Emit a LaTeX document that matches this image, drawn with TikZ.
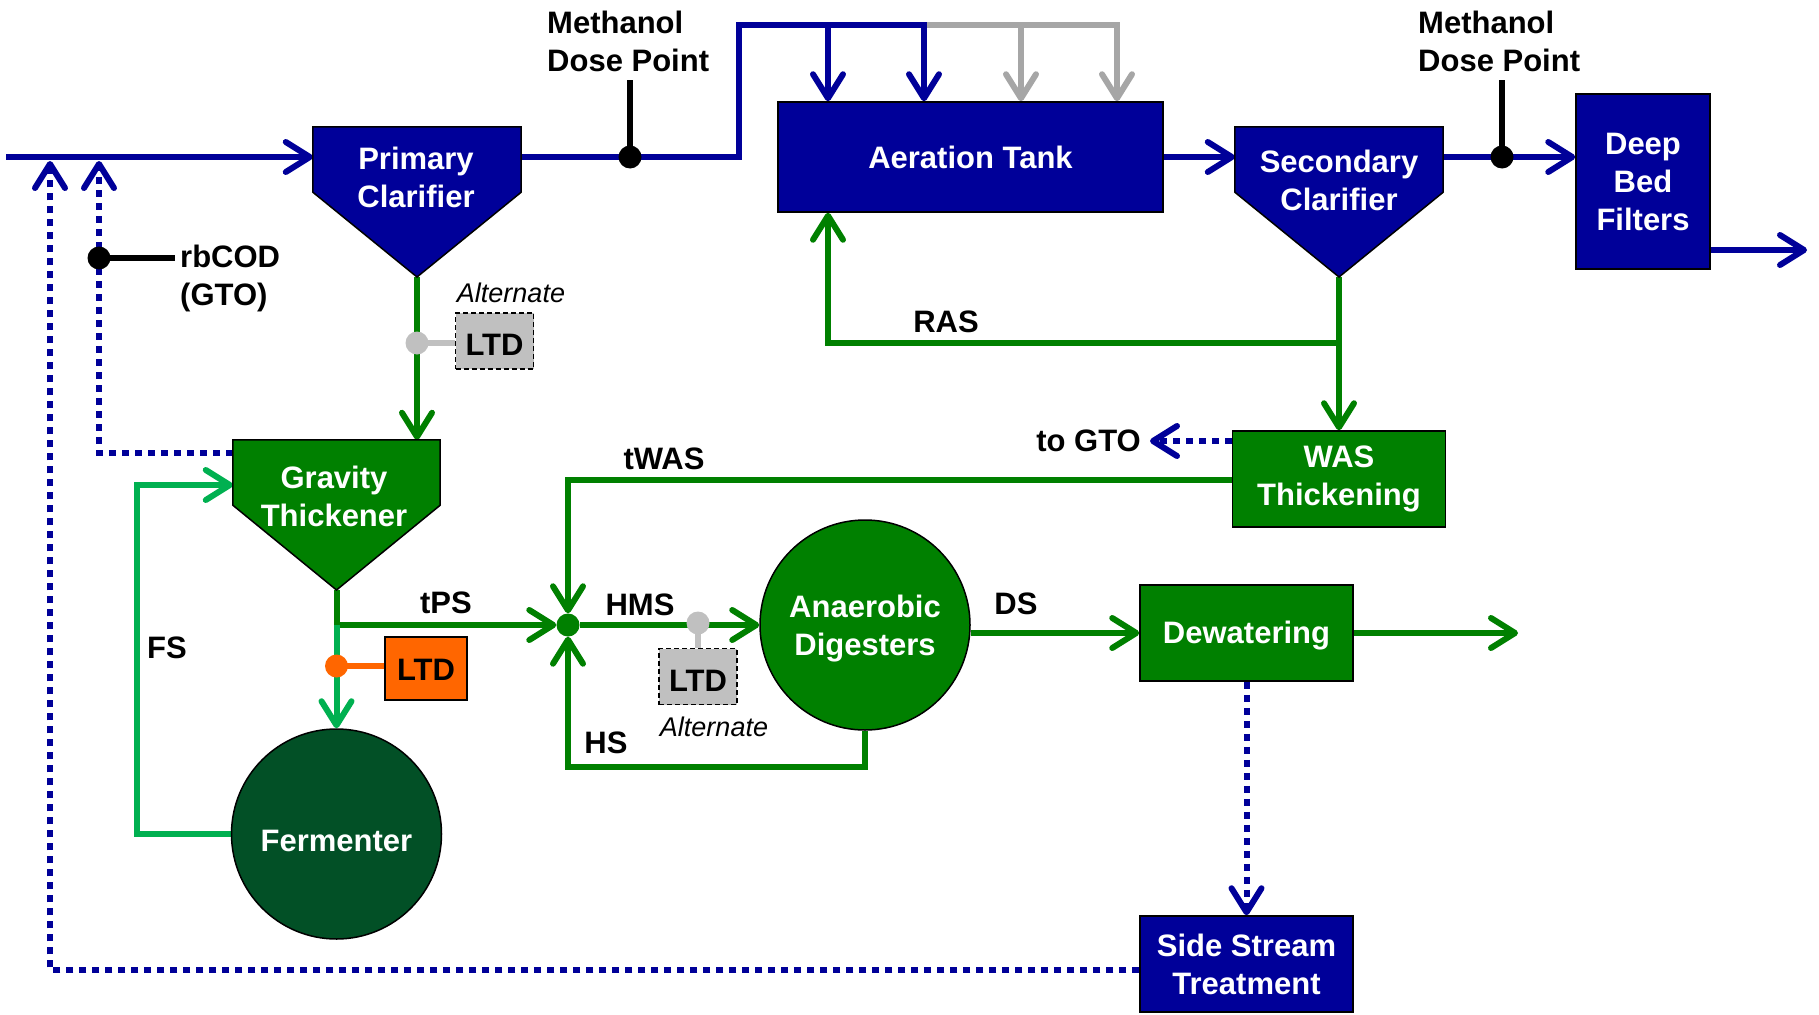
\documentclass[tikz,border=0pt]{standalone}
\usepackage{fontspec}
\setmainfont{Liberation Sans}
\usetikzlibrary{arrows.meta}
\definecolor{navy}{RGB}{0,0,153}
\definecolor{pgreen}{RGB}{0,128,0}
\definecolor{lgreen}{RGB}{0,176,80}
\definecolor{fgreen}{RGB}{2,80,38}
\definecolor{lgrey}{RGB}{166,166,166}
\definecolor{ltdgrey}{RGB}{192,192,192}
\definecolor{ltdorange}{RGB}{255,102,0}
\pgfdeclarelayer{lines}
\pgfsetlayers{lines,main}
\begin{document}
\begin{tikzpicture}[x=1pt,y=-1pt,
  every node/.style={font=\fontsize{31}{38}\selectfont\bfseries, inner sep=0pt},
  flow/.style={line width=6pt},
  tip/.style={-{Straight Barb[length=24pt,width=30pt,round]}},
  dots/.style={flow, navy, dash pattern=on 7pt off 6pt},
  unit/.style={draw=black, line width=1.5pt, text=white, align=center},
  hopper/.style={draw=black, line width=1.5pt},
  alt/.style={font=\fontsize{27}{30}\selectfont\itshape},
  ltdbox/.style={draw=black, line width=1.5pt, minimum width=78pt, minimum height=56pt},
  dotmark/.style={circle, minimum size=23pt},
  tank/.style={circle, draw=black, line width=1.5pt, minimum size=210pt, text=white, align=center}
]
\useasboundingbox (0,0) rectangle (1819,1014);

% ---------- process units ----------
\node[unit, fill=navy, minimum width=385pt, minimum height=110pt] (at) at (970.5,157) {Aeration Tank};
\node[unit, fill=navy, minimum width=134pt, minimum height=175pt] (dbf) at (1643,181.5) {Deep\\Bed\\Filters};
\node[unit, fill=pgreen, minimum width=213pt, minimum height=96pt] (was) at (1339,479) {WAS\\Thickening};
\node[draw=black, line width=1.5pt, fill=pgreen, minimum width=213pt, minimum height=96pt] (dw) at (1246.5,633) {};
\node[text=white] (dwtext) at (1246.5,636) {Dewatering};
\node[unit, fill=navy, minimum width=213pt, minimum height=96pt] (sst) at (1246.5,964) {Side Stream\\Treatment};

% clarifiers and thickener: box on top of a hopper
\node[minimum width=208pt, minimum height=65pt] (pc) at (417,159.5) {};
\coordinate (pctip) at (417,277);
\filldraw[hopper, fill=navy] (pc.north west) -- (pc.north east) -- (pc.south east) -- (pctip) -- (pc.south west) -- cycle;
\node[text=white, align=center] (pctext) at (416,177) {Primary\\Clarifier};

\node[minimum width=208pt, minimum height=65pt] (sc) at (1339,159.5) {};
\coordinate (sctip) at (1339,277);
\filldraw[hopper, fill=navy] (sc.north west) -- (sc.north east) -- (sc.south east) -- (sctip) -- (sc.south west) -- cycle;
\node[text=white, align=center] (sctext) at (1339,180) {Secondary\\Clarifier};

\node[minimum width=207pt, minimum height=65pt] (gt) at (336.5,472.5) {};
\coordinate (gttip) at (336.5,590);
\filldraw[hopper, fill=pgreen] (gt.north west) -- (gt.north east) -- (gt.south east) -- (gttip) -- (gt.south west) -- cycle;
\node[text=white, align=center] (gttext) at (334,496) {Gravity\\Thickener};

\node[tank, fill=fgreen] (fer) at (336.5,834) {};
\node[text=white] (fertext) at (336.5,841) {Fermenter};
\node[tank, fill=pgreen] (ad) at (865,625) {};
\node[text=white, align=center] (adtext) at (865,629) {Anaerobic\\Digesters};

% ---------- dose points, mixing point, LTD units ----------
\node[dotmark, fill=black] (md1) at (630,157) {};
\node[dotmark, fill=black] (md2) at (1502,157) {};
\node[dotmark, fill=black] (rb) at (99,258) {};
\node[dotmark, fill=pgreen] (jn) at (568,625) {};
\node[dotmark, fill=ltdgrey] (gd1) at (417,343) {};
\node[dotmark, fill=ltdgrey] (gd2) at (698,623) {};
\node[dotmark, fill=ltdorange] (od) at (336.5,666) {};

\node[ltdbox, fill=ltdgrey, dash pattern=on 5pt off 3pt] (ltd1) at (494.5,341) {};
\node (ltd1text) at (494.5,345) {LTD};
\node[ltdbox, fill=ltdgrey, dash pattern=on 5pt off 3pt] (ltd2) at (698,676.5) {};
\node (ltd2text) at (698,681) {LTD};
\node[ltdbox, fill=ltdorange, minimum width=82pt, minimum height=63pt] (ltd3) at (426,668.5) {};
\node (ltd3text) at (426,670) {LTD};

% ---------- labels ----------
\node[anchor=north west, align=left] (meth1) at (547,11) {Methanol\\Dose Point};
\node[anchor=north west, align=left] (meth2) at (1418,11) {Methanol\\Dose Point};
\node[anchor=north west, align=left] (rbtext) at (180,245) {rbCOD\\(GTO)};
\node[alt] (alt1) at (511,293) {Alternate};
\node[alt] (alt2) at (714,727) {Alternate};
\node (ras) at (946,322) {RAS};
\node[anchor=east] (gto) at (1141,441) {to GTO};
\node (twas) at (664,459) {tWAS};
\node (tps) at (446,603) {tPS};
\node (hms) at (640,605) {HMS};
\node (hs) at (606,743) {HS};
\node (ds) at (1016,604) {DS};
\node (fs) at (167,648) {FS};

% ---------- bends and free ends ----------
\coordinate (inlet) at (6,157);
\coordinate (feedtop) at (739,25);
\coordinate (s1) at (828,25);
\coordinate (s2) at (924,25);
\coordinate (s3) at (1021,25);
\coordinate (s4) at (1117,25);
\coordinate (md1top) at (630,80);
\coordinate (md2top) at (1502,80);
\coordinate (rbend) at (175,258);
\coordinate (dbfout) at (1807,250);
\coordinate (rasknee) at (1339,343);
\coordinate (rasend) at (828,343);
\coordinate (twasknee) at (568,480);
\coordinate (tpsknee) at (336.5,625);
\coordinate (hs1) at (865,767);
\coordinate (hs2) at (568,767);
\coordinate (fs1) at (137,834);
\coordinate (fs2) at (137,485);
\coordinate (dwout) at (1518,633);
\coordinate (gtret) at (99,453);
\coordinate (ret1) at (50,970);
\coordinate (r1top) at (50,161);
\coordinate (r2top) at (99,161);

% ---------- connectors ----------
\begin{pgfonlayer}{lines}
% liquid train
\draw[flow, navy, tip] (inlet) -- (inlet -| pc.west);
\draw[flow, lgrey, tip] (s2) -- (s4) -- (s4 |- at.north);
\draw[flow, lgrey, tip] (s3) -- (s3 |- at.north);
\draw[flow, navy, tip] (md1 -| pc.east) -- (md1.center) -- (md1 -| feedtop) -- (feedtop) -- (s2) -- (s2 |- at.north);
\draw[flow, navy, tip] (s1) -- (s1 |- at.north);
\draw[flow, navy, tip] (at.east) -- (at.east -| sc.west);
\draw[flow, navy, tip] (md2 -| sc.east) -- (md2 -| dbf.west);
\draw[flow, navy, tip] (dbfout -| dbf.east) -- (dbfout);
\draw[line width=6pt] (md1.center) -- (md1top);
\draw[line width=6pt] (md2.center) -- (md2top);

% return and waste sludge
\draw[flow, pgreen, tip] (sctip) -- (rasknee) -- (rasend) -- (rasend |- at.south);
\draw[flow, pgreen, tip] (rasknee) -- (rasknee |- was.north);
\draw[dots, tip] (was.west |- gto) -- ([xshift=9pt]gto.east);
\draw[flow, pgreen, tip] (was.west |- twasknee) -- (twasknee) -- (jn.north);

% primary sludge
\draw[flow, pgreen, tip] (pctip) -- (pctip |- gt.north);
\draw[line width=6pt, ltdgrey] (gd1.center) -- (gd1.center -| ltd1.west);
\draw[flow, pgreen, tip] (gttip) -- (tpsknee) -- (jn.west);
\draw[flow, lgreen, tip] (tpsknee) -- (fer.north);
\draw[line width=6pt, ltdorange] (od.center) -- (od.center -| ltd3.west);
\draw[flow, lgreen, tip] (fer.west) -- (fs1) -- (fs2) -- (fs2 -| gt.west);

% digestion and dewatering
\draw[flow, pgreen, tip] (jn.east) -- (ad.west);
\draw[line width=6pt, ltdgrey] (gd2.center) -- (ltd2.north);
\draw[flow, pgreen, tip] (ad.south) -- (hs1) -- (hs2) -- (jn.south);
\draw[flow, pgreen, tip] (dw.west -| ad.east) -- (dw.west);
\draw[flow, pgreen, tip] (dw.east) -- (dwout);
\draw[dots, tip] (dw.south) -- (sst.north);

% recycle streams back to the head of the plant
\draw[dots, tip] (sst.west |- ret1) -- (ret1) -- (r1top);
\draw[dots, tip] (gt.west |- gtret) -- (gtret) -- (r2top);
\draw[line width=6pt] (rb.center) -- (rbend);
\end{pgfonlayer}
\end{tikzpicture}
\end{document}
